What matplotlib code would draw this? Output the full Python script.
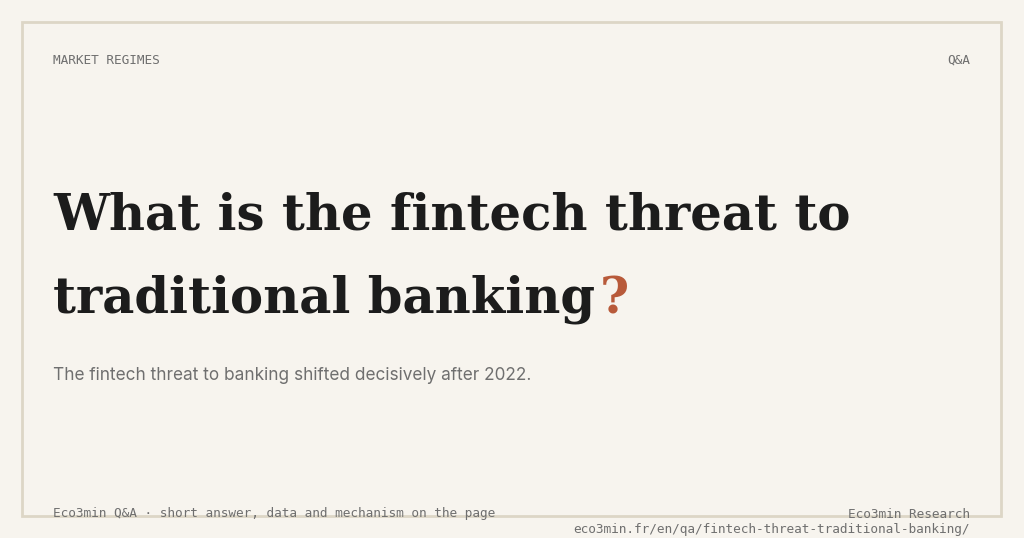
import matplotlib.pyplot as plt
from matplotlib.patches import Rectangle

# card texts
kicker = "MARKET REGIMES"
tag = "Q&A"
title_lines = ["What is the fintech threat to", "traditional banking"]
title_mark = "?"
subtitle = "The fintech threat to banking shifted decisively after 2022."
foot_left = "Eco3min Q&A · short answer, data and mechanism on the page"
foot_brand = "Eco3min Research"
foot_url = "eco3min.fr/en/qa/fintech-threat-traditional-banking/"

bg = "#f7f4ee"
ink = "#1c1c1c"
grey = "#6f6f6f"
accent = "#b85a3a"

fig = plt.figure(figsize=(10.24, 5.38), dpi=100, facecolor=bg)
ax = fig.add_axes([0, 0, 1, 1])
ax.set_xlim(0, 1024)
ax.set_ylim(538, 0)
ax.axis("off")

# frame
ax.add_patch(Rectangle((22, 22), 979, 494, fill=False, edgecolor="#ddd6c6", linewidth=2))

mono = "DejaVu Sans Mono"
ax.text(53, 60, kicker, family=mono, fontsize=9.2, color=grey, va="center", ha="left")
ax.text(970, 60, tag, family=mono, fontsize=9.2, color=grey, va="center", ha="right")

serif = "DejaVu Serif"
tsize = 35.8
t1 = ax.text(53, 230, title_lines[0], family=serif, fontweight="bold", fontsize=tsize,
             color=ink, va="baseline", ha="left")
t2 = ax.text(53, 313, title_lines[1], family=serif, fontweight="bold", fontsize=tsize,
             color=ink, va="baseline", ha="left")

# place the orange question mark right after line two
fig.canvas.draw()
r = fig.canvas.get_renderer()
bb = t2.get_window_extent(renderer=r)
x_end = ax.transData.inverted().transform((bb.x1, bb.y0))[0]
ax.text(x_end + 5, 313, title_mark, family=serif, fontweight="bold", fontsize=tsize,
        color=accent, va="baseline", ha="left")

ax.text(53, 376, subtitle, family="Inter", fontsize=12.4, color=grey, va="center", ha="left")

ax.text(53, 514, foot_left, family=mono, fontsize=9.2, color=grey, va="center", ha="left")
ax.text(970, 514, foot_brand, family=mono, fontsize=9.2, color=grey, va="center", ha="right")
ax.text(970, 529, foot_url, family=mono, fontsize=9.2, color=grey, va="center", ha="right")

fig.savefig("out.png", dpi=100, facecolor=bg)
